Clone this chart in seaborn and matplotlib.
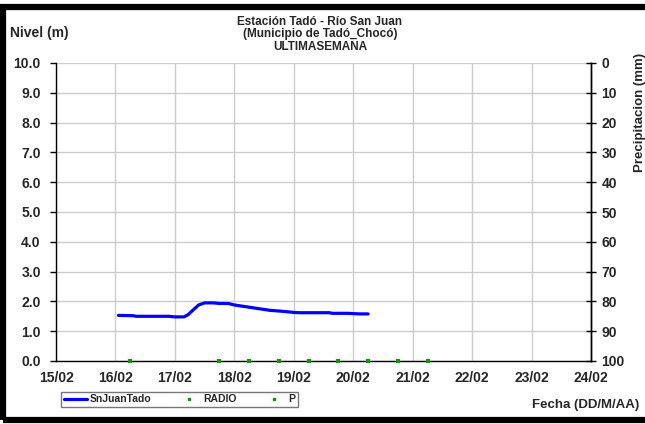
import matplotlib
matplotlib.use("Agg")
import matplotlib.pyplot as plt
from matplotlib.lines import Line2D
from matplotlib.patches import Rectangle
import seaborn as sns
import pandas as pd

# Water level at Tadó station (day of February, metres)
nivel_dia = [16.05, 16.30, 16.35, 16.60, 16.90, 17.00, 17.15, 17.22, 17.30, 17.40,
             17.50, 17.65, 17.75, 17.90, 18.00, 18.20, 18.40, 18.60, 18.80, 19.00,
             19.10, 19.40, 19.60, 19.65, 19.90, 20.00, 20.10, 20.25]
nivel_m = [1.53, 1.52, 1.50, 1.50, 1.50, 1.48, 1.48, 1.55, 1.70, 1.88,
           1.95, 1.95, 1.93, 1.93, 1.88, 1.82, 1.76, 1.70, 1.67, 1.63,
           1.62, 1.62, 1.62, 1.60, 1.60, 1.59, 1.58, 1.58]

# Radio reports (plotted on the zero line)
radio_dia = [16.25, 17.75, 18.25, 18.75, 19.25, 19.75, 20.25, 20.75, 21.25]
radio_m = [0, 0, 0, 0, 0, 0, 0, 0, 0]

dias = [15, 16, 17, 18, 19, 20, 21, 22, 23, 24]
etiquetas_fecha = ["15/02", "16/02", "17/02", "18/02", "19/02",
                   "20/02", "21/02", "22/02", "23/02", "24/02"]
niveles_ticks = [0, 1, 2, 3, 4, 5, 6, 7, 8, 9, 10]
precip_ticks = [0, 10, 20, 30, 40, 50, 60, 70, 80, 90, 100]

sns.set_style("white")
plt.rcParams["font.family"] = ["Liberation Sans", "DejaVu Sans"]
plt.rcParams["font.weight"] = "bold"

fig = plt.figure(figsize=(6.45, 4.24), dpi=100)
ax = fig.add_axes([56 / 645, 1 - 361 / 424, (591 - 56) / 645, (361 - 63) / 424])

df_nivel = pd.DataFrame({"dia": nivel_dia, "nivel": nivel_m})
df_radio = pd.DataFrame({"dia": radio_dia, "nivel": radio_m})

sns.lineplot(data=df_nivel, x="dia", y="nivel", ax=ax, color="#0000ff",
             linewidth=2.3, legend=False, zorder=4)
sns.scatterplot(data=df_radio, x="dia", y="nivel", ax=ax, color="#00a000",
                marker="s", s=6, linewidth=0, legend=False, zorder=6, clip_on=False)

ax.set_xlim(15, 24)
ax.set_ylim(0, 10)
ax.set_xticks(dias)
ax.set_xticklabels(etiquetas_fecha)
ax.set_yticks(niveles_ticks)
ax.set_yticklabels([f"{v:.1f}" for v in niveles_ticks])
ax.set_xlabel("")
ax.set_ylabel("")
ax.grid(True, color="#cccccc", linewidth=1.0)
ax.set_axisbelow(True)
ax.spines["top"].set_visible(False)
for side in ["left", "bottom", "right"]:
    ax.spines[side].set_color("black")
    ax.spines[side].set_linewidth(1.0)
ax.tick_params(axis="both", direction="out", length=4, width=1, color="black",
               labelsize=10)
ax.tick_params(axis="y", pad=7)
ax.tick_params(axis="x", pad=3)
for lab in ax.get_xticklabels() + ax.get_yticklabels():
    lab.set_fontweight("bold")

# Precipitation axis, inverted
ax2 = ax.twinx()
ax2.set_ylim(100, 0)
ax2.set_yticks(precip_ticks)
ax2.set_yticklabels([str(v) for v in precip_ticks])
ax2.tick_params(axis="y", direction="inout", length=7, width=1, color="black",
                labelsize=10, pad=4)
for lab in ax2.get_yticklabels():
    lab.set_fontweight("bold")
for side in ["top", "left", "bottom"]:
    ax2.spines[side].set_visible(False)
ax2.spines["right"].set_color("black")
ax2.spines["right"].set_linewidth(1.0)
ax2.grid(False)
ax2.set_ylabel("Precipitacion (mm)", fontsize=9.5, fontweight="bold")
ax2.yaxis.set_label_coords(1.0 + (634 - 591) / 535, (361 - 112) / 298)

fig.text(0.496, 1 - 22 / 424, "Estación Tadó - Río San Juan", ha="center", va="center",
         fontsize=8.5, fontweight="bold")
fig.text(0.496, 1 - 34.5 / 424, "(Municipio de Tadó_Chocó)", ha="center", va="center",
         fontsize=8.5, fontweight="bold")
fig.text(0.496, 1 - 46.5 / 424, "ULTIMASEMANA", ha="center", va="center",
         fontsize=8.5, fontweight="bold")
fig.text(10 / 645, 1 - 33 / 424, "Nivel (m)", ha="left", va="center",
         fontsize=10, fontweight="bold")
fig.text(639 / 645, 1 - 405 / 424, "Fecha (DD/M/AA)", ha="right", va="center",
         fontsize=9.5, fontweight="bold")

handles = [
    Line2D([], [], color="#0000ff", linewidth=2.3),
    Line2D([], [], color="#00a000", marker="s", markersize=2, linestyle="none"),
    Line2D([], [], color="#00a000", marker="s", markersize=2, linestyle="none"),
]
leg = fig.legend(handles, ["SnJuanTado", "RADIO", "P"], ncol=3,
                 loc="lower left",
                 bbox_to_anchor=(56 / 645, 1 - 412 / 424, (303 - 56) / 645, 20 / 424),
                 mode="expand", frameon=True, fancybox=False, borderpad=0.25,
                 handlelength=2.2, handletextpad=0.3, columnspacing=1.0,
                 prop={"size": 7.5, "weight": "bold"})
leg.get_frame().set_edgecolor("#555555")
leg.get_frame().set_linewidth(1.0)

# Outer frame
fig.patches.append(Rectangle((3 / 645, 1 - 420 / 424), 1.05, (420 - 6.5) / 424,
                             transform=fig.transFigure, fill=False,
                             edgecolor="black", linewidth=4.5, zorder=10))

fig.savefig("out.png", dpi=100)
